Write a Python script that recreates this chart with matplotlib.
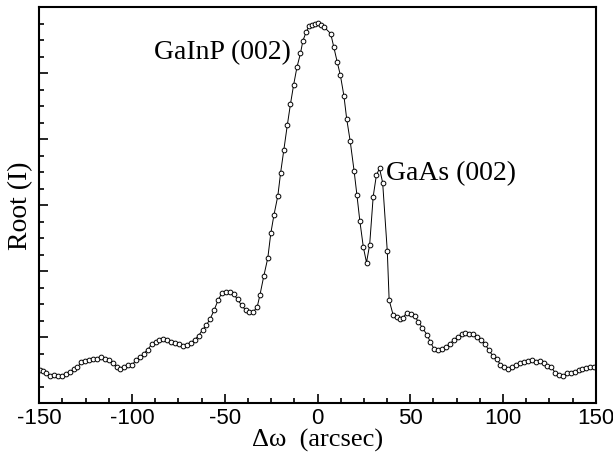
import numpy
# basic arithmetics
import matplotlib
matplotlib.use("Agg")
import matplotlib.pyplot as plt
from matplotlib.ticker import MultipleLocator
# ploting

# rocking curve points: delta omega (arcsec) and root of intensity (a.u.)
omega = [-151.5, -149.4, -147.7, -146.2, -144.1, -142.0, -139.9, -137.8, -135.7, -133.6,
         -131.5, -129.4, -127.3, -125.2, -123.1, -120.9, -118.8, -116.7, -114.6, -112.5,
         -110.4, -108.3, -106.2, -104.1, -102.0, -99.9, -97.8, -95.7, -93.6, -91.5,
         -89.4, -87.3, -85.2, -83.1, -80.9, -78.8, -76.7, -74.6, -72.5, -70.4,
         -68.3, -66.2, -64.1, -62.0, -59.9, -57.8, -55.7, -53.6, -51.5, -49.4,
         -47.3, -45.2, -43.1, -40.9, -38.8, -36.7, -34.6, -32.5, -31.1, -29.0,
         -26.8, -25.2, -23.5, -21.4, -19.9, -18.2, -16.3, -14.6, -12.9, -11.1,
         -9.2, -7.9, -6.2, -4.5, -3.0, -1.4, 0.1, 1.8, 3.5, 7.1,
         8.7, 10.6, 12.3, 14.2, 15.7, 17.6, 19.7, 21.2, 22.8, 24.7,
         26.4, 28.1, 30.0, 31.7, 33.4, 35.1, 37.6, 38.6, 40.7, 42.8,
         44.3, 46.0, 48.1, 50.2, 52.3, 54.4, 56.5, 59.1, 60.7, 62.8,
         65.0, 67.1, 69.2, 71.3, 73.4, 75.5, 77.6, 79.7, 81.8, 83.9,
         86.0, 88.1, 90.2, 92.3, 94.4, 96.5, 98.6, 100.7, 102.8, 104.9,
         107.1, 109.2, 111.3, 113.4, 115.5, 117.6, 119.7, 121.8, 123.9, 126.0,
         128.1, 130.2, 132.3, 134.4, 136.5, 138.6, 140.7, 142.8, 144.9, 147.0,
         149.2]
rootI = [0.49, 0.50, 0.49, 0.45, 0.41, 0.42, 0.41, 0.41, 0.44, 0.47,
         0.51, 0.54, 0.62, 0.63, 0.65, 0.66, 0.67, 0.69, 0.67, 0.65,
         0.60, 0.55, 0.52, 0.55, 0.57, 0.58, 0.65, 0.69, 0.75, 0.81,
         0.89, 0.93, 0.95, 0.97, 0.95, 0.93, 0.91, 0.90, 0.86, 0.88,
         0.91, 0.96, 1.02, 1.11, 1.18, 1.28, 1.41, 1.56, 1.67, 1.68,
         1.68, 1.65, 1.57, 1.48, 1.41, 1.38, 1.38, 1.46, 1.63, 1.92,
         2.20, 2.57, 2.85, 3.14, 3.49, 3.83, 4.21, 4.53, 4.82, 5.09,
         5.30, 5.49, 5.62, 5.72, 5.73, 5.75, 5.76, 5.73, 5.70, 5.60,
         5.40, 5.17, 4.97, 4.66, 4.31, 3.97, 3.52, 3.16, 2.76, 2.36,
         2.13, 2.40, 3.13, 3.45, 3.56, 3.34, 2.30, 1.56, 1.34, 1.31,
         1.28, 1.29, 1.37, 1.35, 1.32, 1.23, 1.14, 1.03, 0.93, 0.82,
         0.80, 0.82, 0.85, 0.90, 0.95, 1.00, 1.04, 1.06, 1.05, 1.05,
         1.00, 0.96, 0.90, 0.80, 0.72, 0.67, 0.58, 0.54, 0.52, 0.55,
         0.57, 0.60, 0.62, 0.64, 0.65, 0.62, 0.63, 0.60, 0.56, 0.54,
         0.46, 0.43, 0.41, 0.45, 0.46, 0.47, 0.50, 0.52, 0.53, 0.54,
         0.54]

xticks = [-150, -100, -50, 0, 50, 100, 150]
xticklabels = ["-150", "-100", "-50", "0", "50", "100", "150"]

plt.rcParams["font.family"] = ["Liberation Sans", "DejaVu Sans"]
serif = ["Liberation Serif", "DejaVu Serif"]

fig = plt.figure(figsize=(6.13, 4.56), dpi=100)
ax = fig.add_axes([0.064, 0.114, 0.908, 0.868])

ax.plot(omega, rootI, color="black", linewidth=0.7,
        marker="o", markersize=3.4, markerfacecolor="white",
        markeredgecolor="black", markeredgewidth=0.7)

ax.set_xlim(-150, 150)
ax.set_ylim(0, 6)

# ticks only on left and bottom, pointing inward
ax.set_xticks(xticks)
ax.set_xticklabels(xticklabels, fontsize=16)
ax.xaxis.set_minor_locator(MultipleLocator(12.5))
ax.yaxis.set_major_locator(MultipleLocator(1))
ax.yaxis.set_minor_locator(MultipleLocator(0.25))
ax.set_yticklabels([])
ax.tick_params(which="both", direction="in", top=False, right=False, width=1.2)
ax.tick_params(which="major", length=6.5, pad=3)
ax.tick_params(which="minor", length=3.4)
for s in ax.spines.values():
    s.set_linewidth(1.5)

ax.set_xlabel("\u0394\u03c9  (arcsec)", fontsize=19, family=serif, labelpad=0)
ax.set_ylabel("Root (I)", fontsize=20, family=serif, labelpad=1)

ax.text(-14.5, 5.32, "GaInP (002)", fontsize=20, family=serif, ha="right", va="center")
ax.text(37, 3.5, "GaAs (002)", fontsize=20, family=serif, ha="left", va="center")

fig.savefig("out.png", dpi=100)
